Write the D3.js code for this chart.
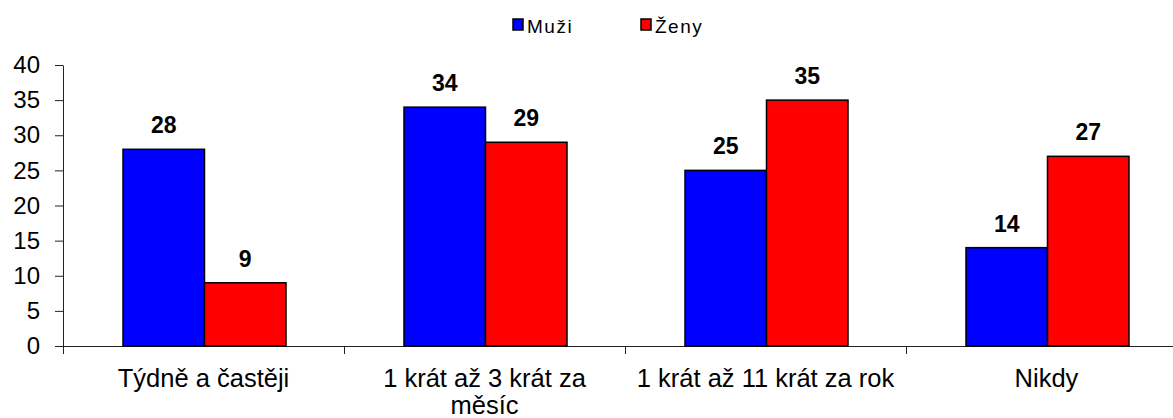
<!DOCTYPE html>
<html>
<head>
<meta charset="utf-8">
<script src="https://cdn.jsdelivr.net/npm/d3@7"></script>
<style>
  body { margin: 0; background: #fff; }
  svg { font-family: "Liberation Sans", Arial, sans-serif; }
</style>
</head>
<body>
<svg width="1173" height="418"></svg>
<script>
// data
const categories = ['Týdně a častěji', '1 krát až 3 krát za měsíc', '1 krát až 11 krát za rok', 'Nikdy'];
const catLines = [['Týdně a častěji'], ['1 krát až 3 krát za', 'měsíc'], ['1 krát až 11 krát za rok'], ['Nikdy']];
const series = ['Muži', 'Ženy'];
const muzi = [28, 34, 25, 14];
const zeny = [9, 29, 35, 27];
const yTicks = [0, 5, 10, 15, 20, 25, 30, 35, 40];
const colors = ['#0000ff', '#ff0000'];

const svg = d3.select('svg');

const plotLeft = 63, bandW = 281;
const plotTop = 65, plotBottom = 346;

// the plot runs past the right edge, like in the original
var x = d3.scaleBand()
  .domain(categories)
  .range([plotLeft, plotLeft + bandW * categories.length])
  .padding(0);

var xs = d3.scaleBand()
  .domain(series)
  .range([60, 223])
  .padding(0);

var y = d3.scaleLinear()
  .domain([0, 40])
  .range([plotBottom, plotTop]);

// y axis
var yAxis = svg.append('g')
  .attr('transform', 'translate(' + plotLeft + ',0)')
  .call(d3.axisLeft(y).tickValues(yTicks).tickSize(8).tickPadding(15).tickSizeOuter(0));
yAxis.select('.domain').attr('stroke', '#222');
yAxis.selectAll('.tick line').attr('stroke', '#222');
yAxis.selectAll('text').attr('font-size', 24).attr('fill', '#000')
  .attr('font-family', '"Liberation Sans", Arial, sans-serif');

// x axis line and ticks between categories
svg.append('line')
  .attr('x1', plotLeft - 8).attr('x2', 1173)
  .attr('y1', plotBottom + 0.5).attr('y2', plotBottom + 0.5)
  .attr('stroke', '#222');

svg.selectAll('.xtick')
  .data(categories)
  .enter()
  .append('line')
  .classed('xtick', true)
  .attr('x1', d => Math.round(x(d)) + 0.5)
  .attr('x2', d => Math.round(x(d)) + 0.5)
  .attr('y1', plotBottom)
  .attr('y2', plotBottom + 8)
  .attr('stroke', '#222');

// bars
const rows = [];
categories.forEach((c, i) => {
  rows.push({cat: c, s: series[0], v: muzi[i], col: colors[0]});
  rows.push({cat: c, s: series[1], v: zeny[i], col: colors[1]});
});

svg.selectAll('.bar')
  .data(rows)
  .enter()
  .append('rect')
  .classed('bar', true)
  .attr('x', d => x(d.cat) + xs(d.s))
  .attr('y', d => y(d.v))
  .attr('width', xs.bandwidth())
  .attr('height', d => plotBottom - y(d.v))
  .attr('fill', d => d.col)
  .attr('stroke', '#000')
  .attr('stroke-width', 1.5);

// value labels
svg.selectAll('.val')
  .data(rows)
  .enter()
  .append('text')
  .attr('x', d => x(d.cat) + xs(d.s) + xs.bandwidth() / 2)
  .attr('y', d => y(d.v) - 16)
  .attr('text-anchor', 'middle')
  .attr('font-size', 23)
  .attr('font-weight', 'bold')
  .text(d => d.v);

// category labels
categories.forEach((c, i) => {
  var t = svg.append('text')
    .attr('x', x(c) + x.bandwidth() / 2)
    .attr('y', 387)
    .attr('text-anchor', 'middle')
    .attr('font-size', 25.5);
  catLines[i].forEach((ln, j) => {
    t.append('tspan')
      .attr('x', x(c) + x.bandwidth() / 2)
      .attr('dy', j === 0 ? 0 : 27)
      .text(ln);
  });
});

// legend
const legX = [513, 641];
series.forEach((s, i) => {
  svg.append('rect')
    .attr('x', legX[i]).attr('y', 19)
    .attr('width', 10).attr('height', 11)
    .attr('fill', colors[i])
    .attr('stroke', '#000')
    .attr('stroke-width', 1.5);
  svg.append('text')
    .attr('x', legX[i] + 14)
    .attr('y', 33)
    .attr('font-size', 19)
    .attr('letter-spacing', 1.5)
    .text(s);
});
</script>
</body>
</html>
